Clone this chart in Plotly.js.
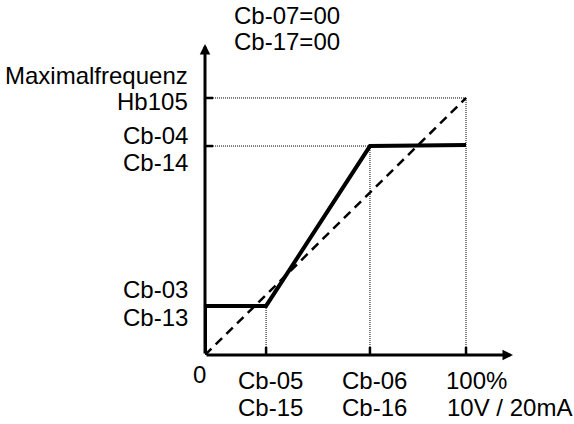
<!DOCTYPE html>
<html>
<head>
<meta charset="utf-8">
<script src="https://cdn.plot.ly/plotly-3.0.1.min.js"></script>
<style>html,body{margin:0;padding:0;background:#fff;}#chart{width:574px;height:424px;}</style>
</head>
<body>
<div id="chart"></div>
<script>
// ---- data ----
const xTickVals = [23.4, 63.2, 100];
const xTickTop = ['Cb-05', 'Cb-06', '100%'];
const xTickBottom = ['Cb-15', 'Cb-16', '10V / 20mA'];
const yTickVals = [19.1, 81.3, 100];
const yTickTop = ['Cb-03', 'Cb-04', 'Maximalfrequenz'];
const yTickBottom = ['Cb-13', 'Cb-14', 'Hb105'];
const solidX = [0, 0, 23.4, 63.2, 100];
const solidY = [0, 19.1, 19.1, 81.3, 81.7];
const dashX = [0, 100];
const dashY = [0, 100];
const guideVTop = [19.1, 81.3, 100];      // vertical dotted guides end on curve
const guideHY = [81.3, 100];              // horizontal dotted guides
const guideHX = [63.2, 100];
const headerLines = ['Cb-07=00', 'Cb-17=00'];
const originLabel = '0';

// ---- styles ----
const FONT = {family: 'Arial, "Liberation Sans", sans-serif', size: 24, color: '#000'};
const X_MAX = 118, Y_MAX = 121;

const traces = [];
// dotted vertical guides
xTickVals.forEach((x, i) => {
  traces.push({x: [x, x], y: [0, guideVTop[i]], mode: 'lines',
    line: {color: '#000', width: 1, dash: '1px,1px'}, hoverinfo: 'skip'});
});
// dotted horizontal guides
guideHY.forEach((y, i) => {
  traces.push({x: [0, guideHX[i]], y: [y, y], mode: 'lines',
    line: {color: '#000', width: 1, dash: '1px,1px'}, hoverinfo: 'skip'});
});
// dashed reference
traces.push({x: dashX, y: dashY, mode: 'lines',
  line: {color: '#000', width: 2.5, dash: '9px,6px'}, hoverinfo: 'skip'});
// solid characteristic
traces.push({x: solidX, y: solidY, mode: 'lines',
  line: {color: '#000', width: 4, shape: 'linear'}, hoverinfo: 'skip'});

const shapes = [];
xTickVals.forEach(x => {
  shapes.push({type: 'line', xref: 'x', yref: 'y', x0: x, x1: x,
    ysizemode: 'pixel', yanchor: 0, y0: -8, y1: 8, line: {color: '#000', width: 2.5}});
});
yTickVals.forEach(y => {
  shapes.push({type: 'line', xref: 'x', yref: 'y', y0: y, y1: y,
    xsizemode: 'pixel', xanchor: 0, x0: -9, x1: 8, line: {color: '#000', width: 2.5}});
});

const annotations = [];
// axis arrows
annotations.push({x: X_MAX, y: 0, ax: 0, ay: 0, xref: 'x', yref: 'y', axref: 'x', ayref: 'y',
  showarrow: true, arrowhead: 2, arrowsize: 0.7, arrowwidth: 3, arrowcolor: '#000', text: ''});
annotations.push({x: 0, y: Y_MAX, ax: 0, ay: 0, xref: 'x', yref: 'y', axref: 'x', ayref: 'y',
  showarrow: true, arrowhead: 2, arrowsize: 0.7, arrowwidth: 3, arrowcolor: '#000', text: ''});

// x labels
const xTopShift = [[4, -25], [5, -25], [10, -25]];
const xBotShift = [[4, -52], [5, -52], [43, -52]];
xTickVals.forEach((x, i) => {
  annotations.push({x: x, y: 0, xref: 'x', yref: 'y', text: xTickTop[i], showarrow: false,
    xanchor: 'center', yanchor: 'middle', xshift: xTopShift[i][0], yshift: xTopShift[i][1], font: FONT});
  annotations.push({x: x, y: 0, xref: 'x', yref: 'y', text: xTickBottom[i], showarrow: false,
    xanchor: 'center', yanchor: 'middle', xshift: xBotShift[i][0], yshift: xBotShift[i][1], font: FONT});
});
// y labels
const yTopShift = [16, 11, 22];
const yBotShift = [-12, -16, -4];
yTickVals.forEach((y, i) => {
  annotations.push({x: 0, y: y, xref: 'x', yref: 'y', text: yTickTop[i], showarrow: false,
    xanchor: 'right', yanchor: 'middle', xshift: -15, yshift: yTopShift[i], font: FONT});
  annotations.push({x: 0, y: y, xref: 'x', yref: 'y', text: yTickBottom[i], showarrow: false,
    xanchor: 'right', yanchor: 'middle', xshift: -15, yshift: yBotShift[i], font: FONT});
});
// origin
annotations.push({x: 0, y: 0, xref: 'x', yref: 'y', text: originLabel, showarrow: false,
  xanchor: 'center', yanchor: 'middle', xshift: -6, yshift: -19, font: FONT});
// header
const headerShift = [29, 3];
headerLines.forEach((t, i) => {
  annotations.push({x: 0, y: 1, xref: 'x', yref: 'paper', text: t, showarrow: false,
    xanchor: 'center', yanchor: 'middle', xshift: 82, yshift: headerShift[i], font: FONT});
});

const layout = {
  width: 574, height: 424,
  margin: {l: 205, r: 61, t: 44, b: 69, pad: 0},
  paper_bgcolor: '#fff', plot_bgcolor: '#fff',
  showlegend: false,
  xaxis: {range: [0, X_MAX], visible: false, fixedrange: true},
  yaxis: {range: [0, Y_MAX], visible: false, fixedrange: true},
  shapes: shapes,
  annotations: annotations,
  font: FONT
};

Plotly.newPlot('chart', traces, layout, {displayModeBar: false, staticPlot: true});
</script>
</body>
</html>
